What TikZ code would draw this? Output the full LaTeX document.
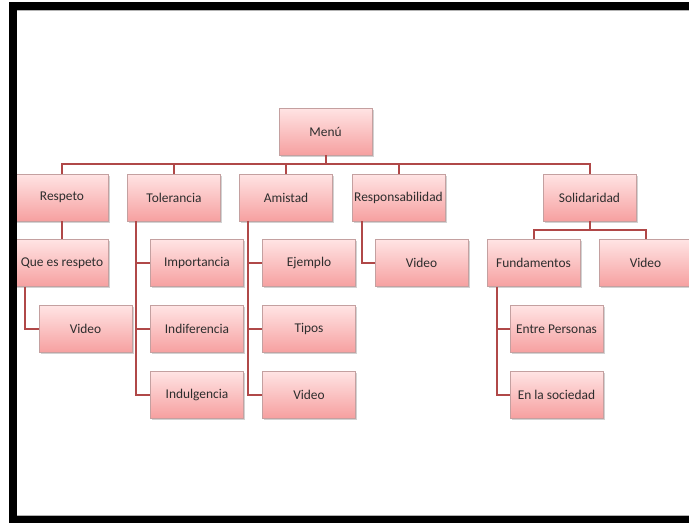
\documentclass[tikz,border=0pt]{standalone}
\usepackage{fontspec}
\setmainfont{Carlito}
\usepackage{xcolor}
\usetikzlibrary{shadows}
\definecolor{pinktop}{RGB}{255,228,228}
\definecolor{pinkbot}{RGB}{246,160,160}
\definecolor{pinkedge}{RGB}{196,160,160}
\definecolor{linered}{RGB}{176,72,72}
\definecolor{txtgray}{RGB}{45,45,45}
\newcommand{\drawpink}{\node[draw=pinkedge, line width=0.6pt, rectangle, top color=pinktop, bottom color=pinkbot, drop shadow={shadow xshift=1.5pt, shadow yshift=-1.5pt, opacity=0.35}, minimum width=93pt, minimum height=47pt, inner sep=0pt, text=txtgray, font=\fontsize{13.4}{15}\selectfont]}
\newcommand{\arrred}{\draw[line width=2pt, color=linered]}

\begin{document}
\begin{tikzpicture}[x=1pt, y=-1pt]
\useasboundingbox (0,0) rectangle (689,523);
\fill[white] (0,0) rectangle (689,523);
%top of the tree
\drawpink (menu) at (325.5,131.5) {Menú};
\drawpink (resp) at (62,197.5) {Respeto};
\drawpink (tol) at (174,197.5) {Tolerancia};
\drawpink (ami) at (286,197.5) {Amistad};
\drawpink (respon) at (398.5,197.5) {Responsabilidad};
\drawpink (soli) at (589.5,197.5) {Solidaridad};

%second row
\drawpink (quees) at (62,263) {Que es respeto};
\drawpink (impo) at (197,263) {Importancia};
\drawpink (ejem) at (309,263) {Ejemplo};
\drawpink (vidRespon) at (421.5,263) {Video};
\drawpink (fund) at (533.5,263) {Fundamentos};
\drawpink (vidSoli) at (645.5,263) {Video};

%third row
\drawpink (vidResp) at (85.5,329) {Video};
\drawpink (indif) at (197,329) {Indiferencia};
\drawpink (tipos) at (309,329) {Tipos};
\drawpink (entre) at (556.5,329) {Entre Personas};

%fourth row
\drawpink (indul) at (197,394.5) {Indulgencia};
\drawpink (vidAmi) at (309,394.5) {Video};
\drawpink (socie) at (556.5,394.5) {En la sociedad};

\coordinate (bus) at (0,164);
\coordinate (subbus) at (0,230);

\arrred (menu.south) -- (menu.south |- bus);
\arrred (resp.north) -- (resp.north |- bus) -- (soli.north |- bus) -- (soli.north);
\foreach \n in {tol,ami,respon} {
\arrred (\n.north) -- (\n.north |- bus);
}
\arrred (resp.south) -- (quees.north);
\arrred ([xshift=9.5pt]quees.south west) |- (vidResp.west);

\arrred ([xshift=9pt]tol.south west) |- (indul.west);
\arrred ([xshift=9pt]tol.south west) |- (impo.west);
\arrred ([xshift=9pt]tol.south west) |- (indif.west);

\arrred ([xshift=9pt]ami.south west) |- (vidAmi.west);
\arrred ([xshift=9pt]ami.south west) |- (ejem.west);
\arrred ([xshift=9pt]ami.south west) |- (tipos.west);

\arrred ([xshift=10pt]respon.south west) |- (vidRespon.west);

\arrred (soli.south) -- (soli.south |- subbus);
\arrred (fund.north) -- (fund.north |- subbus) -- (vidSoli.north |- subbus) -- (vidSoli.north);

\arrred ([xshift=10pt]fund.south west) |- (socie.west);
\arrred ([xshift=10pt]fund.south west) |- (entre.west);

%black frame
\fill[black] (9,2) rectangle (689,10);
\fill[black] (9,2) rectangle (17,523);
\fill[black] (9,516) rectangle (689,523);
\draw[gray!60, line width=1pt] (17,10.5) -- (689,10.5);
\draw[gray!60, line width=1pt] (17,515.5) -- (689,515.5);
\end{tikzpicture}
\end{document}
